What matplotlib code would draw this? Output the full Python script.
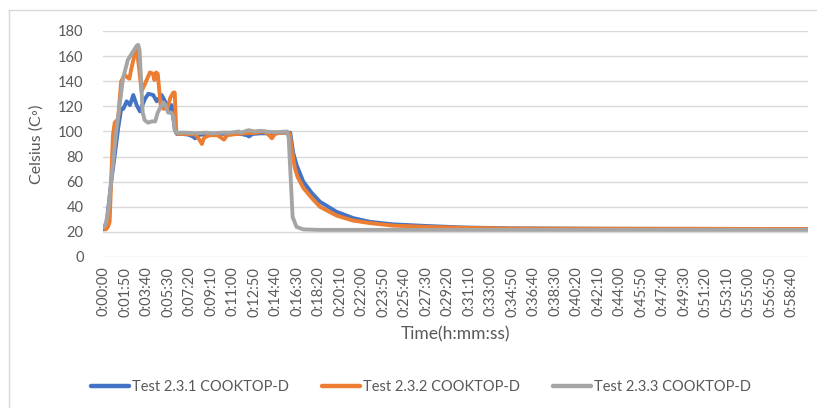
import matplotlib
matplotlib.use("Agg")
import matplotlib.pyplot as plt
from matplotlib.lines import Line2D

plt.rcParams['font.family'] = ['Lato', 'DejaVu Sans']

# Elapsed time (s) and temperature (°C) for each test run
t_231 = [0, 10, 20, 37, 55, 72, 88, 99, 116, 133, 150, 167, 184, 210, 227, 252, 270, 295,
         312, 329, 346, 363, 373, 400, 430, 455, 466, 480, 520, 560, 600, 650, 700, 730,
         742, 760, 800, 850, 900, 940, 953, 968, 986, 1020, 1063, 1105, 1190, 1275, 1361,
         1478, 1652, 1821, 2077, 2537, 3600]
temp_231 = [22, 23, 36, 60, 81, 102, 118, 118, 124, 121, 129, 121, 116, 126, 130, 129, 124, 129,
            124, 117, 121, 101, 98, 98, 97.5, 96, 94.5, 97, 98, 97.5, 98, 98.5, 98, 97,
            96, 98, 98.5, 98.5, 99, 99, 99, 83, 73, 60, 51, 44, 36, 31, 28,
            26, 24.7, 23.6, 22.8, 22.5, 22.3]

t_232 = [0, 10, 20, 29, 37, 46, 55, 72, 88, 106, 120, 130, 140, 155, 167, 180, 192, 210, 235,
         250, 258, 267, 275, 290, 305, 325, 340, 355, 362, 370, 380, 420, 470, 490, 501, 512,
         540, 580, 600, 614, 630, 680, 720, 780, 820, 845, 859, 875, 900, 940, 950, 962, 975,
         990, 1020, 1063, 1105, 1190, 1275, 1361, 1478, 1652, 1821, 2077, 2537, 3600]
temp_232 = [23, 22, 24, 28, 62, 97, 107, 110, 140, 145, 143, 142, 150, 160, 166, 150, 132, 138, 147,
            146, 141, 147, 146, 121, 118, 119, 127, 131, 131, 99, 98, 98, 97.5, 93, 90, 95,
            97, 97, 95, 93.5, 97, 98, 98.5, 99, 100, 97, 94.5, 98, 99, 99, 98.5, 85, 72,
            64, 55, 47, 40, 33, 29, 27, 25, 24, 23.3, 22.7, 22.5, 22.3]

t_233 = [0, 10, 21, 38, 63, 80, 97, 122, 150, 166, 175, 182, 198, 208, 225, 245, 262, 275, 295,
         305, 315, 328, 345, 355, 362, 372, 420, 470, 520, 560, 600, 650, 690, 700, 740, 770,
         800, 850, 900, 936, 945, 955, 965, 985, 1020, 1100, 3600]
temp_233 = [24, 27, 36, 62, 100, 121, 142, 157, 164, 168, 169, 165, 115, 109, 107, 108, 108, 115, 121,
            123, 121, 115, 115, 112, 101, 99, 99, 98.5, 99, 98.5, 99, 99, 100, 99, 101, 100,
            100.5, 99.5, 99.5, 100, 95, 64, 32, 24, 22, 21.6, 21.6]

series_names = ["Test 2.3.1 COOKTOP-D", "Test 2.3.2 COOKTOP-D", "Test 2.3.3 COOKTOP-D"]
series_colors = ["#4472C4", "#ED7D31", "#A5A5A5"]

# Category labels every 110 s, formatted h:mm:ss
tick_seconds = list(range(0, 3521, 110))
tick_labels = [f"{s // 3600}:{(s % 3600) // 60:02d}:{s % 60:02d}" for s in tick_seconds]
y_ticks = list(range(0, 181, 20))

fig = plt.figure(figsize=(8.17, 4.08), dpi=100)
fig.patch.set_facecolor("white")

# chart-area border
fig.add_artist(Line2D([9 / 817, 9 / 817], [0, 1 - 10 / 408], transform=fig.transFigure,
                      color="#d9d9d9", lw=1))
fig.add_artist(Line2D([9 / 817, 1], [1 - 10 / 408, 1 - 10 / 408], transform=fig.transFigure,
                      color="#d9d9d9", lw=1))

ax = fig.add_axes([103 / 817, 151 / 408, (808 - 103) / 817, (257 - 31) / 408])

for tt, vv, name, col in zip([t_231, t_232, t_233], [temp_231, temp_232, temp_233],
                             series_names, series_colors):
    ax.plot(tt, vv, color=col, lw=2.8, label=name, solid_joinstyle="round",
            solid_capstyle="round", zorder=3)

ax.set_xlim(-5, 3602)
ax.set_ylim(0, 180)
ax.set_yticks(y_ticks)
ax.set_xticks(tick_seconds)
ax.set_xticklabels(tick_labels, rotation=90)
ax.grid(axis="y", color="#d9d9d9", lw=1, zorder=0)
ax.grid(axis="x", visible=False)
for sp in ax.spines.values():
    sp.set_visible(False)
ax.tick_params(axis="both", length=0, labelsize=10.5, colors="#595959")
ax.tick_params(axis="x", pad=7)
ax.tick_params(axis="y", pad=14)

ax.set_ylabel("Celsius (C◦)", fontsize=11.5, color="#595959", labelpad=10)
ax.set_xlabel("Time(h:mm:ss)", fontsize=12.5, color="#595959", labelpad=7)

leg = fig.legend(*ax.get_legend_handles_labels(), loc="center", ncol=3,
                 bbox_to_anchor=(421 / 817, 1 - 387 / 408), frameon=False,
                 fontsize=10.5, handlelength=2.6, handletextpad=0.2, columnspacing=2.3)
for txt in leg.get_texts():
    txt.set_color("#595959")
for h in leg.get_lines():
    h.set_linewidth(3.2)

fig.savefig("out.png", dpi=100, facecolor="white")
